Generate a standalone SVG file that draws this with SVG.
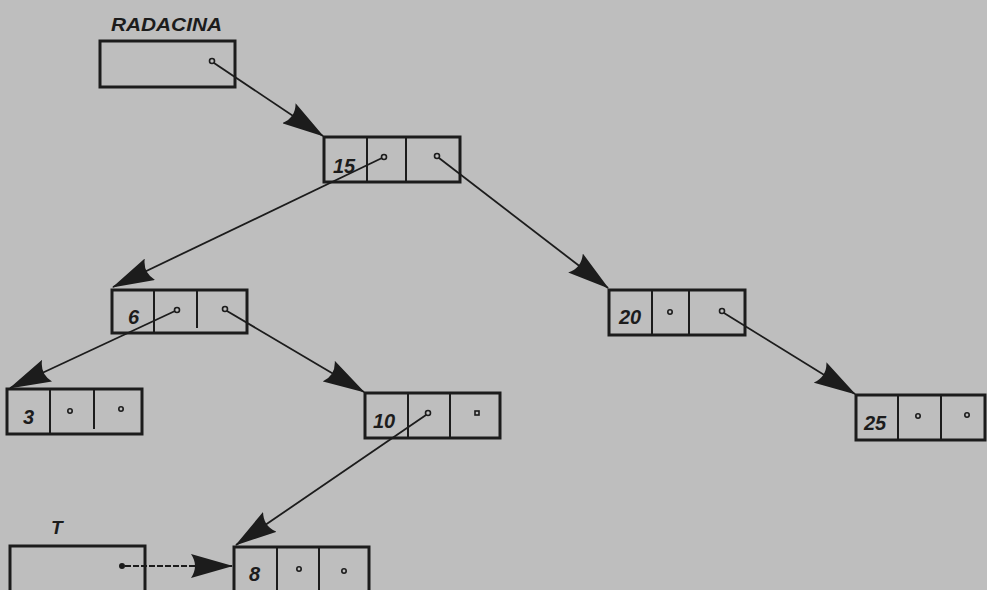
<svg xmlns="http://www.w3.org/2000/svg" width="987" height="590" viewBox="0 0 987 590">
<style>
.box{fill:none;stroke:#1c1c1c;stroke-width:3}
.div{stroke:#1c1c1c;stroke-width:2}
.dot{fill:none;stroke:#1c1c1c;stroke-width:1.6}
.lbl{font-family:"Liberation Sans",Arial,sans-serif;font-weight:bold;font-style:italic;font-size:20px;fill:#1c1c1c}
.cap{font-family:"Liberation Sans",Arial,sans-serif;font-weight:bold;font-style:italic;font-size:19px;fill:#1c1c1c}
.con{stroke:#1c1c1c;stroke-width:1.8;fill:none;marker-end:url(#ah)}
</style>
<defs>
<marker id="ah" viewBox="0 0 42 24" markerWidth="42" markerHeight="24" markerUnits="userSpaceOnUse" refX="41" refY="12" orient="auto">
<path d="M0,0 Q8,12 0,24 L42,12 Z" fill="#1c1c1c"/>
</marker>
</defs>
<rect width="987" height="590" fill="#bebebe"/>
<g id="radacina">
<text class="cap" x="111" y="31" textLength="111" lengthAdjust="spacingAndGlyphs">RADACINA</text>
<rect class="box" x="100" y="41" width="135" height="46"/>
<circle class="dot" cx="212" cy="61" r="2.5"/>
</g>
<g id="n15">
<rect class="box" x="324" y="137" width="136" height="45"/>
<line class="div" x1="367" y1="137" x2="367" y2="182"/>
<line class="div" x1="406" y1="137" x2="406" y2="182"/>
<text class="lbl" x="333" y="173">15</text>
<circle class="dot" cx="384" cy="157" r="2.5"/>
<circle class="dot" cx="437" cy="156" r="2.5"/>
</g>
<g id="n6">
<rect class="box" x="112" y="290" width="135" height="43"/>
<line class="div" x1="154" y1="290" x2="154" y2="333"/>
<line class="div" x1="197" y1="290" x2="197" y2="328"/>
<text class="lbl" x="128" y="324">6</text>
<circle class="dot" cx="177" cy="310" r="2.5"/>
<circle class="dot" cx="225" cy="309" r="2.5"/>
</g>
<g id="n20">
<rect class="box" x="609" y="290" width="136" height="45"/>
<line class="div" x1="652" y1="290" x2="652" y2="335"/>
<line class="div" x1="689" y1="290" x2="689" y2="335"/>
<text class="lbl" x="619" y="324">20</text>
<circle class="dot" cx="670" cy="312" r="2.2"/>
<circle class="dot" cx="722" cy="311" r="2.5"/>
</g>
<g id="n3">
<rect class="box" x="7" y="389" width="135" height="45"/>
<line class="div" x1="50" y1="389" x2="50" y2="434"/>
<line class="div" x1="94" y1="389" x2="94" y2="429"/>
<text class="lbl" x="23" y="424">3</text>
<circle class="dot" cx="70" cy="411" r="2.2"/>
<circle class="dot" cx="121" cy="409" r="2.2"/>
</g>
<g id="n10">
<rect class="box" x="365" y="393" width="135" height="45"/>
<line class="div" x1="408" y1="393" x2="408" y2="438"/>
<line class="div" x1="450" y1="393" x2="450" y2="438"/>
<text class="lbl" x="373" y="428">10</text>
<circle class="dot" cx="428" cy="413" r="2.5"/>
<rect class="dot" x="475" y="411" width="4" height="4"/>
</g>
<g id="n25">
<rect class="box" x="856" y="395" width="129" height="45"/>
<line class="div" x1="898" y1="395" x2="898" y2="440"/>
<line class="div" x1="941" y1="395" x2="941" y2="440"/>
<text class="lbl" x="864" y="430">25</text>
<circle class="dot" cx="918" cy="416" r="2.2"/>
<circle class="dot" cx="967" cy="415" r="2.2"/>
</g>
<g id="t">
<text class="cap" x="51" y="534">T</text>
<rect class="box" x="10" y="546" width="135" height="48"/>
<circle cx="122" cy="566" r="3" fill="#1c1c1c"/>
</g>
<g id="n8">
<rect class="box" x="234" y="547" width="135" height="48"/>
<line class="div" x1="277" y1="547" x2="277" y2="590"/>
<line class="div" x1="319" y1="547" x2="319" y2="590"/>
<text class="lbl" x="249" y="581">8</text>
<circle class="dot" cx="299" cy="569" r="2.2"/>
<circle class="dot" cx="344" cy="571" r="2.2"/>
</g>
<g id="connectors">
<line class="con" x1="214" y1="63" x2="323" y2="136"/>
<line class="con" x1="382" y1="158" x2="113" y2="287"/>
<line class="con" x1="439" y1="158" x2="608" y2="288"/>
<line class="con" x1="175" y1="311" x2="10" y2="388"/>
<line class="con" x1="227" y1="311" x2="364" y2="392"/>
<line class="con" x1="724" y1="313" x2="855" y2="394"/>
<line class="con" x1="426" y1="415" x2="236" y2="545"/>
<line class="con" x1="125" y1="566" x2="232" y2="566" stroke-dasharray="6,2"/>
</g>
</svg>
